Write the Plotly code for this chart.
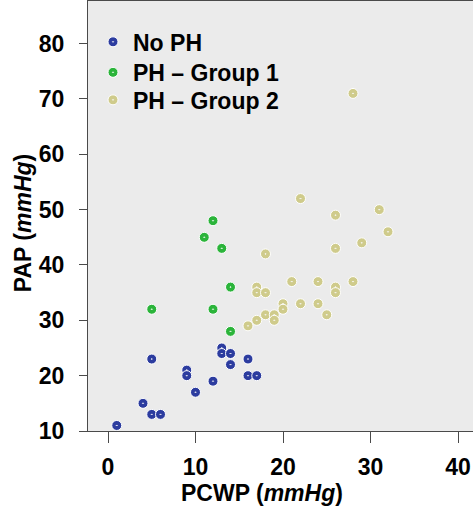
import plotly.graph_objects as go

# No PH
nph_x = [1, 4, 5, 6, 5, 9, 9, 10, 12, 13, 13, 14, 14, 16, 16, 17]
nph_y = [11, 15, 13, 13, 23, 21, 20, 17, 19, 25, 24, 24, 22, 23, 20, 20]
# PH - Group 1
g1_x = [12, 11, 13, 14, 5, 12, 14]
g1_y = [48, 45, 43, 36, 32, 32, 28]
# PH - Group 2
g2_x = [28, 22, 26, 31, 32, 29, 26, 18, 21, 24, 28, 26, 26, 17, 17, 18, 22, 24, 20, 20, 25, 18, 19, 19, 17, 16]
g2_y = [71, 52, 49, 50, 46, 44, 43, 42, 37, 37, 37, 36, 35, 36, 35, 35, 33, 33, 33, 32, 31, 31, 31, 30, 30, 29]

names = ["No PH", "PH \u2013 Group 1", "PH \u2013 Group 2"]
colors = ["#2c3c9f", "#2bb43a", "#cfcb8b"]
x_ticks = [0, 10, 20, 30, 40]
y_ticks = [10, 20, 30, 40, 50, 60, 70, 80]

FONT = "Liberation Sans, Arial, sans-serif"
FS = 23

fig = go.Figure()
legend_ids = ["legend", "legend2", "legend3"]
for xs, ys, nm, c, lg in zip([nph_x, g1_x, g2_x], [nph_y, g1_y, g2_y], names, colors, legend_ids):
    fig.add_trace(go.Scatter(
        x=xs, y=ys, mode="markers", name=nm, legend=lg,
        marker=dict(symbol="circle-dot", size=10, color=c,
                    line=dict(color="white", width=1)),
    ))

axis_common = dict(
    showgrid=False, zeroline=False, showline=True, linecolor="#4a4a4a", linewidth=1,
    ticks="outside", tickcolor="#4a4a4a", tickwidth=1,
    tickfont=dict(family=FONT, size=FS, color="black", weight="bold"),
)
fig.update_xaxes(range=[-2.286, 41.714], tickvals=x_ticks, ticklen=11, mirror=True,
                 ticklabelstandoff=4, **axis_common)
fig.update_yaxes(range=[10, 87.7], tickvals=y_ticks, ticklen=8, mirror=False,
                 ticklabelstandoff=10, **axis_common)

fig.add_annotation(text="PCWP (<i>mmHg</i>)", xref="paper", yref="paper",
                   x=0.452, y=-0.144, xanchor="center", yanchor="middle", showarrow=False,
                   font=dict(family=FONT, size=FS, color="black", weight="bold"))
fig.add_annotation(text="PAP (<i>mmHg</i>)", xref="paper", yref="paper",
                   x=-0.168, y=0.484, xanchor="center", yanchor="middle", showarrow=False,
                   textangle=-90,
                   font=dict(family=FONT, size=FS, color="black", weight="bold"))

leg_common = dict(xanchor="left", yanchor="middle", bgcolor="rgba(0,0,0,0)",
                  font=dict(family=FONT, size=FS, color="black", weight="bold"),
                  itemwidth=30, x=0.013)
fig.update_layout(
    width=473, height=512,
    margin=dict(l=88, r=0, t=1, b=81),
    paper_bgcolor="white", plot_bgcolor="#ebebeb",
    showlegend=True,
    legend=dict(y=0.905, **leg_common),
    legend2=dict(y=0.834, **leg_common),
    legend3=dict(y=0.770, **leg_common),
)

fig.write_html("out.html")
